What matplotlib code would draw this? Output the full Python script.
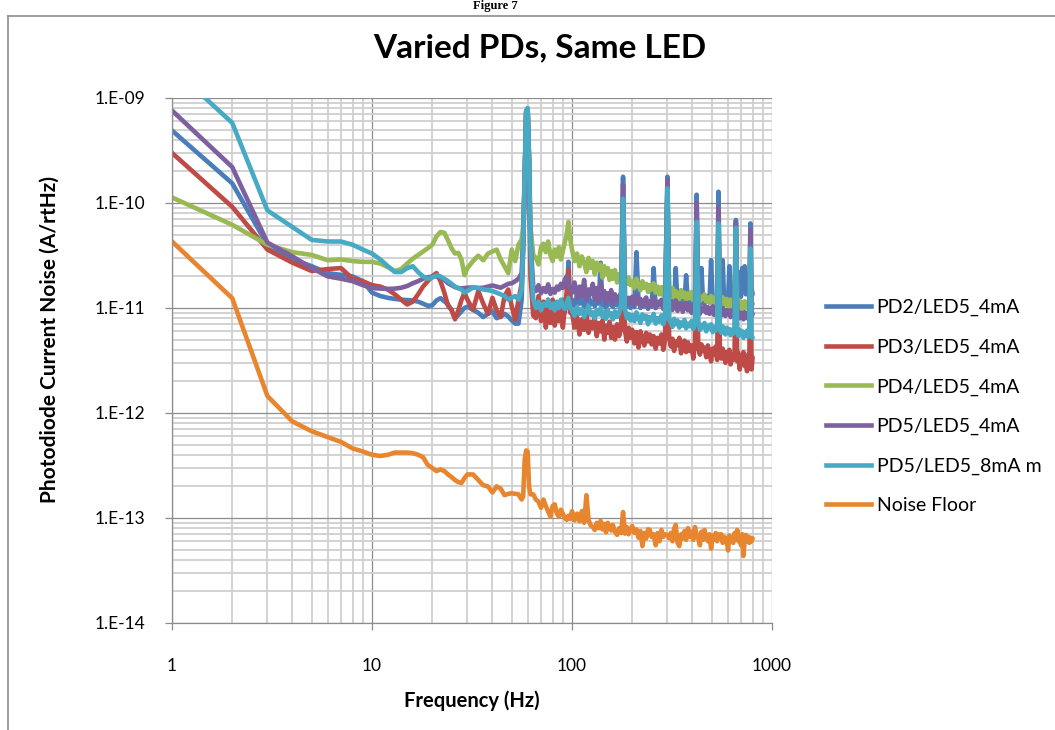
import matplotlib
matplotlib.use("Agg")
import matplotlib.pyplot as plt
from matplotlib.lines import Line2D
from matplotlib.ticker import FixedLocator, FixedFormatter, NullFormatter
import numpy as np

plt.rcParams['font.family'] = ['Lato', 'DejaVu Sans']

# frequency grid (Hz)
freq_lo = [1, 2, 3, 4, 5, 6, 7, 8, 9, 10,
           11, 12, 13, 14, 15, 16, 17, 18, 19, 20,
           21, 22, 23, 24, 25, 26, 27, 28, 29, 30,
           32, 34, 36, 38, 40, 42, 44, 46, 48, 50,
           52, 54, 56, 57, 58, 59, 60, 61, 62, 64,
           66, 68, 70, 72, 74, 76, 78, 80, 82, 84,
           86, 88, 90, 92, 94, 96, 98]
freq_hi = [100, 103, 106, 109, 112, 115, 118, 121, 124, 127,
           130, 133, 136, 139, 142, 145, 148, 151, 154, 157,
           160, 164, 168, 172, 176, 180, 184, 188, 192, 196,
           200, 205, 210, 215, 220, 225, 230, 235, 240, 245,
           250, 256, 262, 268, 274, 280, 286, 292, 300, 306,
           312, 318, 324, 330, 337, 344, 351, 358, 365, 372,
           380, 388, 396, 404, 412, 420, 428, 436, 444, 452,
           460, 469, 478, 487, 496, 505, 514, 523, 532, 540,
           549, 558, 567, 576, 585, 594, 603, 612, 621, 630,
           640, 650, 660, 670, 680, 690, 700, 710, 720, 730,
           740, 750, 760, 770, 780, 790, 800]

# noise values, in pA/rtHz
pd2_lo = [490, 154, 40, 29, 25, 21.5, 20.7, 20, 18, 14,
          13, 12.5, 12.2, 12, 11.9, 11.8, 11.5, 11, 10.5, 10.6,
          11.8, 12.4, 11.6, 10.8, 9.5, 8.0, 8.6, 9.3, 10.0, 10.3,
          9.6, 9.0, 8.2, 8.8, 9.3, 8.0, 8.3, 8.8, 8.3, 7.6,
          7.1, 7.1, 11.9, 35, 170, 720, 790, 240, 30, 10.5,
          9.5, 11.5, 8.8, 10.8, 9.2, 12.0, 8.5, 10.2, 9.0, 11.0,
          9.4, 10.5, 12.0, 9.0, 11.5, 27.6, 10.5]
pd2_hi = [12.0, 10.5, 13.0, 11.0, 12.5, 10.2, 11.8, 13.2, 10.8, 11.5,
          10.4, 12.2, 11.0, 27.0, 10.6, 11.8, 10.0, 12.0, 10.8, 11.4,
          10.2, 11.9, 10.6, 11.5, 13.0, 178, 12.0, 10.4, 11.2, 10.0,
          11.0, 10.2, 34.0, 11.8, 10.0, 11.2, 10.5, 11.6, 9.8, 11.0,
          10.3, 24.0, 10.0, 11.2, 10.6, 11.8, 10.1, 11.0, 178, 11.4,
          10.5, 11.6, 10.2, 24.0, 11.0, 10.4, 11.8, 10.6, 11.2, 20.5,
          11.0, 10.4, 11.8, 10.8, 11.5, 120, 12.0, 10.8, 24.0, 11.4,
          11.0, 12.0, 13.0, 11.5, 28.5, 12.2, 11.0, 12.5, 11.8, 128,
          12.0, 12.8, 28.5, 11.6, 12.4, 13.0, 11.8, 25.0, 12.6, 13.2,
          12.2, 13.5, 69, 13.0, 22.0, 14.0, 12.8, 24.0, 14.5, 25.0,
          13.5, 15.0, 20.0, 14.0, 64, 15.5, 13.5]

pd3_lo = [300, 92, 36, 27, 22.5, 23.5, 24, 19, 18, 16.5,
          16, 15, 13.5, 12, 10.8, 11.5, 13.5, 16, 18, 20,
          21.5, 18, 14, 10.5, 9.6, 7.8, 9.5, 11.9, 14, 12,
          9.6, 14.5, 11, 8.8, 12.5, 9.5, 8.2, 13, 15, 10.3,
          7.7, 12, 17, 40, 180, 740, 790, 250, 20, 8.5,
          8.0, 13, 7.5, 11.5, 6.5, 10, 7.2, 12, 6.8, 9.5,
          7.5, 11, 6.5, 10, 14, 23, 9]
pd3_hi = [9.0, 6.5, 8.2, 5.6, 7.8, 6.2, 8.8, 5.8, 7.4, 6.4,
          8.0, 5.4, 7.2, 6.0, 7.6, 5.0, 6.8, 5.8, 7.4, 5.2,
          6.6, 5.0, 7.0, 5.4, 6.4, 85, 6.0, 4.8, 6.5, 5.2,
          6.2, 4.6, 5.9, 4.2, 6.0, 5.0, 4.4, 5.8, 4.8, 5.6,
          4.5, 5.4, 4.1, 5.2, 4.6, 5.6, 4.0, 5.0, 110, 5.3,
          4.3, 5.1, 3.9, 4.8, 4.4, 5.2, 3.7, 4.6, 4.9, 3.8,
          4.7, 3.9, 4.4, 3.3, 4.6, 55, 4.2, 3.6, 4.5, 3.9,
          4.2, 3.4, 4.4, 3.7, 3.1, 4.1, 3.6, 4.3, 3.2, 55,
          3.9, 3.3, 4.1, 3.5, 3.0, 3.8, 3.4, 4.0, 2.9, 3.6,
          3.2, 3.9, 50, 3.1, 3.7, 2.6, 3.5, 3.0, 3.8, 2.8,
          3.4, 2.5, 3.6, 3.0, 32, 2.6, 3.4]

pd4_lo = [113, 62, 40, 34, 32, 28.5, 29, 28, 27.5, 27.5,
          26.5, 24.5, 22.5, 23.5, 26.5, 29.5, 32, 34.5, 37, 40,
          48, 53, 52, 44, 37, 33, 33.5, 29, 20.5, 24,
          28, 31.5, 28.5, 33, 34.5, 36, 29, 25, 21.5, 36,
          28, 40, 45, 60, 190, 760, 800, 270, 60, 32,
          30, 26, 38, 41, 34, 43, 32, 28, 36, 31,
          38, 29, 35, 42, 50, 66, 45]
pd4_hi = [36, 28, 33, 25, 31, 27, 22, 30, 24, 28,
          21, 27, 23, 26, 19.5, 25, 21, 24, 18.5, 22.5,
          19, 23, 17.5, 21, 19, 90, 20, 17, 19.5, 16.5,
          18, 15.5, 19, 16.5, 14.8, 18, 15.5, 17, 14.2, 16.5,
          15, 17.2, 14, 16, 13.5, 15.8, 13.2, 15.2, 120, 14.5,
          13, 15.5, 12.6, 14.5, 13.2, 12.2, 14.8, 12.8, 14.0, 12.0,
          13.8, 12.4, 14.2, 11.8, 13.2, 60, 13.6, 11.6, 12.8, 12.2,
          13.5, 11.5, 12.6, 11.2, 13.0, 12.0, 11.0, 12.8, 11.6, 60,
          12.4, 10.8, 12.6, 11.4, 10.6, 12.2, 11.0, 10.4, 12.0, 11.2,
          10.2, 11.8, 55, 10.6, 12.0, 10.0, 11.4, 10.8, 9.6, 11.6,
          10.2, 11.2, 9.8, 10.8, 35, 10.4, 11.0]

pd5_4_lo = [760, 220, 42, 31, 24, 20, 19, 18, 16.5, 15.5,
            15.3, 15.2, 15.3, 15.6, 16.2, 17.2, 18.0, 19.0, 19.6, 19.9,
            20.0, 19.5, 18.5, 17.2, 16.5, 15.8, 15.5, 15.4, 15.5, 15.6,
            15.7, 15.5, 15.6, 16.0, 16.4, 16.0, 15.6, 16.3, 17.0, 17.2,
            18.0, 19.0, 21.5, 45, 175, 740, 790, 260, 45, 16.0,
            14.5, 16.5, 13.8, 15.5, 14.2, 16.8, 13.6, 15.2, 14.0, 16.0,
            15.0, 17.0, 15.5, 18.5, 20.0, 17.0, 15.0]
pd5_4_hi = [14.0, 17.5, 12.5, 16.0, 13.0, 18.5, 12.0, 15.0, 13.5, 17.0,
            12.2, 15.5, 11.5, 17.5, 12.8, 14.5, 11.2, 13.8, 12.0, 14.8,
            11.0, 13.5, 11.8, 12.6, 14.0, 150, 12.8, 10.8, 12.5, 11.2,
            12.8, 10.6, 13.2, 11.0, 12.2, 10.4, 11.8, 12.6, 10.2, 11.6,
            10.6, 12.4, 10.0, 11.5, 10.8, 12.0, 9.8, 11.2, 166, 10.5,
            11.4, 9.6, 10.8, 11.8, 9.4, 10.6, 11.0, 9.2, 10.4, 11.2,
            9.5, 10.6, 9.0, 10.8, 9.8, 100, 10.2, 8.8, 10.0, 9.4,
            10.5, 9.0, 10.2, 8.8, 9.8, 10.4, 8.6, 9.6, 10.0, 92,
            9.2, 8.5, 10.0, 9.0, 8.4, 9.6, 8.8, 9.4, 8.2, 9.5,
            8.6, 9.3, 65, 8.4, 9.2, 8.0, 9.0, 8.5, 7.8, 9.1,
            8.2, 8.9, 7.9, 8.6, 55, 8.3, 8.8]

pd5_8_lo = [1950, 580, 85, 59, 44.5, 43, 43, 40, 36, 33,
            29, 25, 22, 22, 24, 25, 22, 20, 19, 19.5,
            20.5, 20, 19, 18, 17, 16, 15.5, 15, 14, 14.5,
            15.7, 15.5, 15, 14.8, 14.5, 14, 13.5, 13, 12, 12.5,
            13, 12, 15, 40, 180, 750, 800, 250, 40, 12,
            10, 11.5, 9.5, 11, 10.5, 12, 10, 11, 9.5, 11.5,
            10, 12, 10.5, 9.8, 11, 12.5, 10]
pd5_8_hi = [9.5, 8.4, 10.2, 8.8, 9.8, 8.2, 9.4, 10.4, 8.6, 9.1,
            8.0, 9.6, 8.7, 10.0, 8.3, 9.2, 7.9, 9.5, 8.5, 8.9,
            7.8, 9.3, 8.2, 9.0, 10.5, 110, 9.8, 8.0, 8.8, 7.6,
            8.6, 7.5, 9.1, 8.0, 7.2, 8.7, 7.9, 8.4, 7.0, 8.2,
            7.6, 8.8, 7.1, 8.0, 7.4, 8.5, 7.0, 8.2, 138, 7.8,
            7.2, 6.6, 7.9, 7.0, 7.6, 6.5, 7.3, 6.8, 7.7, 6.4,
            7.1, 6.7, 7.5, 6.3, 7.0, 66, 7.4, 6.2, 6.9, 6.5,
            7.2, 6.0, 6.8, 6.4, 7.0, 5.9, 6.6, 6.1, 7.0, 64,
            6.2, 5.8, 6.7, 6.0, 5.6, 6.5, 5.9, 6.3, 5.5, 6.2,
            5.7, 6.4, 58, 5.9, 5.4, 6.2, 5.6, 6.0, 5.2, 5.8,
            5.5, 6.1, 5.3, 5.8, 37, 5.4, 5.2]

floor_lo = [43, 12.4, 1.45, 0.83, 0.67, 0.59, 0.53, 0.46, 0.43, 0.40,
            0.39, 0.40, 0.42, 0.42, 0.42, 0.415, 0.40, 0.38, 0.32, 0.30,
            0.28, 0.29, 0.28, 0.26, 0.245, 0.23, 0.22, 0.215, 0.24, 0.26,
            0.26, 0.23, 0.205, 0.2, 0.175, 0.2, 0.19, 0.165, 0.17, 0.172,
            0.17, 0.168, 0.15, 0.16, 0.36, 0.44, 0.43, 0.2, 0.168, 0.168,
            0.15, 0.143, 0.125, 0.15, 0.13, 0.115, 0.103, 0.13, 0.135, 0.11,
            0.103, 0.12, 0.11, 0.10, 0.096, 0.105, 0.098]
floor_hi = [0.116, 0.095, 0.11, 0.093, 0.116, 0.09, 0.165, 0.096, 0.085, 0.082,
            0.077, 0.09, 0.08, 0.094, 0.078, 0.088, 0.073, 0.09, 0.082, 0.076,
            0.086, 0.074, 0.069, 0.08, 0.072, 0.114, 0.071, 0.082, 0.07, 0.078,
            0.084, 0.072, 0.078, 0.065, 0.075, 0.054, 0.072, 0.064, 0.078, 0.077,
            0.066, 0.07, 0.055, 0.072, 0.06, 0.077, 0.066, 0.07, 0.069, 0.064,
            0.072, 0.06, 0.079, 0.086, 0.058, 0.054, 0.07, 0.064, 0.075, 0.062,
            0.08, 0.066, 0.074, 0.062, 0.082, 0.07, 0.064, 0.055, 0.074, 0.062,
            0.077, 0.066, 0.06, 0.07, 0.051, 0.068, 0.062, 0.072, 0.06, 0.07,
            0.064, 0.07, 0.058, 0.066, 0.065, 0.06, 0.049, 0.068, 0.062, 0.066,
            0.058, 0.072, 0.062, 0.077, 0.06, 0.066, 0.055, 0.07, 0.0435, 0.062,
            0.069, 0.06, 0.066, 0.058, 0.065, 0.06, 0.064]

labels = ["PD2/LED5_4mA", "PD3/LED5_4mA", "PD4/LED5_4mA",
          "PD5/LED5_4mA", "PD5/LED5_8mA m", "Noise Floor"]
colors = ["#4A7EBB", "#BE4B48", "#98B954", "#7D60A0", "#46AAC5", "#E8852F"]
series = [pd2_lo + pd2_hi, pd3_lo + pd3_hi, pd4_lo + pd4_hi,
          pd5_4_lo + pd5_4_hi, pd5_8_lo + pd5_8_hi, floor_lo + floor_hi]

y_ticks = [1e-14, 1e-13, 1e-12, 1e-11, 1e-10, 1e-9]
y_tick_labels = ["1.E-14", "1.E-13", "1.E-12", "1.E-11", "1.E-10", "1.E-09"]
x_ticks = [1, 10, 100, 1000]
x_tick_labels = ["1", "10", "100", "1000"]

freq = np.array(freq_lo + freq_hi, dtype=float)

fig = plt.figure(figsize=(10.55, 7.30), dpi=100)
ax = fig.add_axes([172 / 1055, 1 - 623 / 730, 600 / 1055, 525 / 730])

for vals, lab, col in zip(series, labels, colors):
    ax.plot(freq, np.array(vals) * 1e-12, color=col, lw=3.3, label=lab,
            solid_joinstyle='round', solid_capstyle='round')

ax.set_xscale('log')
ax.set_yscale('log')
ax.set_xlim(1, 1000)
ax.set_ylim(1e-14, 1e-9)

ax.xaxis.set_major_locator(FixedLocator(x_ticks))
ax.xaxis.set_major_formatter(FixedFormatter(x_tick_labels))
ax.yaxis.set_major_locator(FixedLocator(y_ticks))
ax.yaxis.set_major_formatter(FixedFormatter(y_tick_labels))
ax.xaxis.set_minor_formatter(NullFormatter())
ax.yaxis.set_minor_formatter(NullFormatter())

ax.grid(which='major', color='#8C8C8C', lw=0.9)
ax.grid(which='minor', color='#CFCFCF', lw=1.3)
ax.set_axisbelow(True)
ax.tick_params(which='major', direction='out', length=5, width=0.9,
               color='#8C8C8C', labelsize=12.5, colors='#8C8C8C', labelcolor='black')
ax.tick_params(axis='x', which='major', pad=20)
ax.tick_params(axis='y', which='major', pad=14)
ax.tick_params(which='minor', length=0)
for s in ['top', 'right']:
    ax.spines[s].set_visible(False)
for s in ['left', 'bottom']:
    ax.spines[s].set_color('#8C8C8C')
    ax.spines[s].set_linewidth(0.9)

ax.set_xlabel('Frequency (Hz)', fontsize=14.5, fontweight='bold')
ax.xaxis.set_label_coords(0.5, -0.128)
ax.set_ylabel('Photodiode Current Noise (A/rtHz)', fontsize=15, fontweight='bold')
ax.yaxis.set_label_coords(-0.187, 0.54)

fig.text(540 / 1055, 1 - 48 / 730, 'Varied PDs, Same LED', fontsize=24,
         fontweight='bold', ha='center', va='center')
fig.text(495 / 1055, 1.0, 'Figure 7', fontsize=9, fontweight='bold',
         family='Liberation Serif', ha='center', va='top')

handles = [Line2D([], [], color=c, lw=3.3) for c in colors]
fig.legend(handles, labels, loc='upper left', bbox_to_anchor=(826 / 1055, 1 - 299 / 730),
           frameon=False, fontsize=14, handlelength=2.3, handletextpad=0.3,
           labelspacing=1.15, borderpad=0, borderaxespad=0)

# outer frame of the figure box
fig.add_artist(Line2D([8 / 1055, 8 / 1055], [0, 1 - 16 / 730], transform=fig.transFigure,
                      color='#8C8C8C', lw=1.2))
fig.add_artist(Line2D([8 / 1055, 1], [1 - 16 / 730, 1 - 16 / 730], transform=fig.transFigure,
                      color='#8C8C8C', lw=1.2))

fig.savefig('out.png', dpi=100)
